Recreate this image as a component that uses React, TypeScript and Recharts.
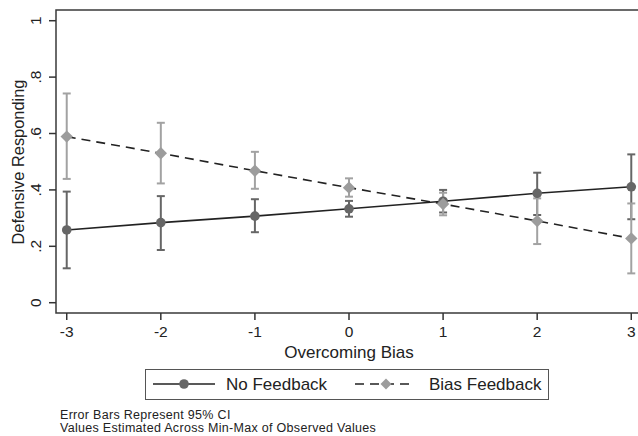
import React from 'react';
import { LineChart, Line, XAxis, YAxis, ErrorBar, ReferenceArea, Legend, Label } from 'recharts';

const xValues = [-3, -2, -1, 0, 1, 2, 3];

const noFeedback = [0.258, 0.284, 0.307, 0.333, 0.36, 0.388, 0.411];
const noFeedbackLow = [0.122, 0.187, 0.25, 0.305, 0.32, 0.311, 0.296];
const noFeedbackHigh = [0.394, 0.378, 0.367, 0.361, 0.4, 0.461, 0.526];

const biasFeedback = [0.589, 0.53, 0.468, 0.408, 0.35, 0.29, 0.228];
const biasFeedbackLow = [0.439, 0.423, 0.404, 0.376, 0.31, 0.208, 0.104];
const biasFeedbackHigh = [0.742, 0.638, 0.535, 0.441, 0.39, 0.37, 0.352];

const yTicks = [0, 0.2, 0.4, 0.6, 0.8, 1];
const yTickLabels = ['0', '.2', '.4', '.6', '.8', '1'];

const seriesNames = ['No Feedback', 'Bias Feedback'];
const yTitle = 'Defensive Responding';
const xTitle = 'Overcoming Bias';
const notes = ['Error Bars Represent 95% CI', 'Values Estimated Across Min-Max of Observed Values'];

const X_DOMAIN: [number, number] = [-3.114, 3.114];
const Y_DOMAIN: [number, number] = [-0.0365, 1.038];

const FONT = '"Liberation Sans", Arial, Helvetica, sans-serif';
const INK = '#222';
const NF_GRAY = '#666';
const BF_GRAY = '#a2a2a2';

const data = xValues.map((x, i) => ({
  x,
  nf: noFeedback[i],
  nfErr: [noFeedback[i] - noFeedbackLow[i], noFeedbackHigh[i] - noFeedback[i]],
  bf: biasFeedback[i],
  bfErr: [biasFeedback[i] - biasFeedbackLow[i], biasFeedbackHigh[i] - biasFeedback[i]],
}));

function YTick({ x, y, payload }: any) {
  const idx = yTicks.indexOf(payload.value);
  return (
    <text
      x={x}
      y={y}
      transform={`rotate(-90 ${x} ${y})`}
      textAnchor="middle"
      fontSize={15.5}
      fontFamily={FONT}
      fill={INK}
    >
      {idx >= 0 ? yTickLabels[idx] : payload.value}
    </text>
  );
}

function diamond(cx: number, cy: number, r: number) {
  return `M${cx},${cy - r}L${cx + r},${cy}L${cx},${cy + r}L${cx - r},${cy}Z`;
}

function DiamondDot({ cx, cy, index }: any) {
  return <path key={`d-${index}`} d={diamond(cx, cy, 6.2)} fill="#9c9c9c" />;
}

function renderLegend() {
  return (
    <div
      style={{
        width: 404,
        height: 31,
        boxSizing: 'border-box',
        border: '1px solid #555',
        background: '#fff',
      }}
    >
      <svg width={402} height={29} style={{ display: 'block' }}>
        <line x1={7} x2={69} y1={14} y2={14} stroke={INK} strokeWidth={1.5} />
        <circle cx={38} cy={14} r={4.8} fill={NF_GRAY} />
        <text x={80} y={20} fontSize={17} fontFamily={FONT} fill={INK}>
          {seriesNames[0]}
        </text>
        <line x1={209} x2={266} y1={14} y2={14} stroke={INK} strokeWidth={1.5} strokeDasharray="9 6" />
        <path d={diamond(240, 14, 5.5)} fill="#9c9c9c" />
        <text x={283} y={20} fontSize={17} fontFamily={FONT} fill={INK}>
          {seriesNames[1]}
        </text>
      </svg>
    </div>
  );
}

export default function App() {
  return (
    <div
      style={{
        position: 'absolute',
        left: 0,
        top: 0,
        width: 638,
        height: 436,
        overflow: 'hidden',
        background: '#fff',
      }}
    >
      <LineChart width={650} height={436} data={data} margin={{ top: 10, right: 8, left: 0, bottom: 83 }}>
        <XAxis
          dataKey="x"
          type="number"
          domain={X_DOMAIN}
          ticks={xValues}
          allowDataOverflow
          axisLine={false}
          tickLine={{ stroke: '#333', strokeWidth: 1.5 }}
          tickSize={7}
          tickMargin={6}
          height={40}
          tick={{ fontSize: 15.5, fontFamily: FONT, fill: INK }}
        >
          <Label
            content={({ viewBox }: any) => (
              <text
                x={viewBox.x + viewBox.width / 2}
                y={358}
                textAnchor="middle"
                fontSize={17}
                fontFamily={FONT}
                fill={INK}
              >
                {xTitle}
              </text>
            )}
          />
        </XAxis>
        <YAxis
          type="number"
          domain={Y_DOMAIN}
          ticks={yTicks}
          allowDataOverflow
          width={56}
          axisLine={false}
          tickLine={{ stroke: '#333', strokeWidth: 1.5 }}
          tickSize={7}
          tickMargin={8}
          tick={<YTick />}
        />
        <ReferenceArea
          x1={X_DOMAIN[0]}
          x2={X_DOMAIN[1]}
          y1={Y_DOMAIN[0]}
          y2={Y_DOMAIN[1]}
          fill="none"
          stroke="#3a3a3a"
          strokeWidth={1.5}
          ifOverflow="visible"
        />
        <Line
          dataKey="nf"
          name={seriesNames[0]}
          type="linear"
          stroke={INK}
          strokeWidth={1.6}
          dot={{ r: 4.8, fill: NF_GRAY, stroke: 'none' }}
          activeDot={false}
          isAnimationActive={false}
        >
          <ErrorBar dataKey="nfErr" direction="y" width={4} stroke={NF_GRAY} strokeWidth={2} isAnimationActive={false} />
        </Line>
        <Line
          dataKey="bf"
          name={seriesNames[1]}
          type="linear"
          stroke={INK}
          strokeWidth={1.6}
          strokeDasharray="9 6"
          dot={<DiamondDot />}
          activeDot={false}
          isAnimationActive={false}
        >
          <ErrorBar dataKey="bfErr" direction="y" width={4} stroke={BF_GRAY} strokeWidth={2} isAnimationActive={false} />
        </Line>
        <Legend
          layout="vertical"
          verticalAlign="middle"
          align="center"
          content={renderLegend}
          wrapperStyle={{ position: 'absolute', left: 145, top: 369, width: 404, height: 31 }}
        />
      </LineChart>
      <svg width={34} height={436} style={{ position: 'absolute', left: 0, top: 0 }}>
        <text
          x={24}
          y={162}
          transform="rotate(-90 24 162)"
          textAnchor="middle"
          fontSize={16.4}
          fontFamily={FONT}
          fill={INK}
        >
          {yTitle}
        </text>
      </svg>
      {notes.map((n, i) => (
        <div
          key={n}
          style={{
            position: 'absolute',
            left: 60,
            top: 409 + i * 12.7,
            fontSize: 12.5,
            lineHeight: '12.7px',
            letterSpacing: 0.3,
            fontFamily: FONT,
            color: INK,
            whiteSpace: 'nowrap',
          }}
        >
          {n}
        </div>
      ))}
    </div>
  );
}
